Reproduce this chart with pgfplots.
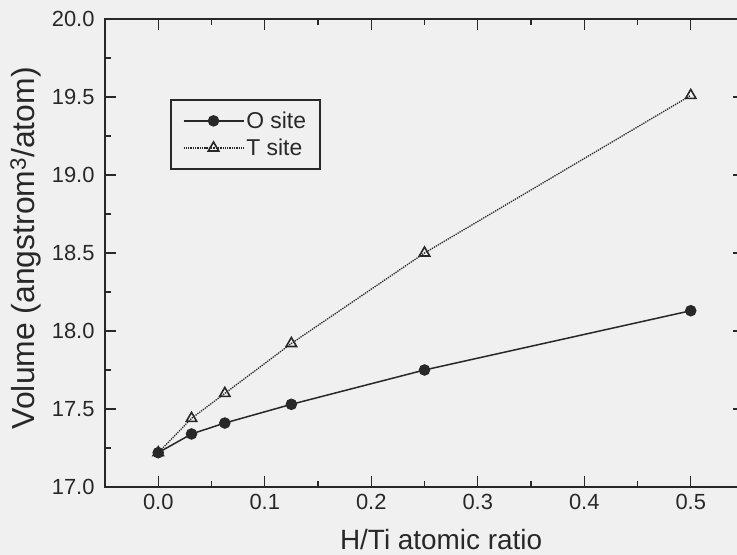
\documentclass[border=0pt]{standalone}
\usepackage{pgfplots}
\pgfplotsset{compat=1.18}
\usepackage{fontspec}
\setmainfont{Liberation Sans}
\definecolor{bg}{RGB}{240,240,240}
\definecolor{ink}{RGB}{40,40,40}
\begin{document}
\begin{tikzpicture}
\fill[bg] (-105bp,-68bp) rectangle (632bp,487bp);
\begin{axis}[
  name=ax, at={(0,0)}, anchor=south west,
  scale only axis, width=639bp, height=468bp,
  xmin=-0.05, xmax=0.55, ymin=17, ymax=20,
  xtick={0,0.1,0.2,0.3,0.4,0.5},
  ytick={17,17.5,18,18.5,19,19.5,20},
  minor x tick num=1, minor y tick num=1,
  tick align=inside, major tick length=11bp, minor tick length=6bp,
  every tick/.style={ink, line width=1.3bp},
  axis line style={ink, line width=2bp},
  /pgf/number format/assume math mode=true,
  /pgf/number format/.cd, fixed, fixed zerofill, precision=1, /pgfplots/.cd,
  ticklabel style={font=\fontsize{22}{26}\selectfont, text=ink},
  xticklabel style={yshift=-4bp},
  yticklabel style={xshift=-7bp},
  xlabel={H/Ti atomic ratio},
  ylabel={Volume (angstrom\textsuperscript{3}/atom)},
  xlabel style={font=\fontsize{28}{32}\selectfont, text=ink, at={(axis description cs:0.526,-0.113)}, anchor=center},
  ylabel style={font=\fontsize{32}{36}\selectfont, text=ink, at={(axis description cs:-0.124,0.51)}, anchor=center},
  legend style={at={(axis description cs:0.1017,0.829)}, anchor=north west,
    draw=ink, line width=1.6bp, fill=bg, font=\fontsize{23}{26}\selectfont, text=ink,
    inner xsep=12bp, inner ysep=10bp, row sep=5bp},
  legend cell align=left,
  legend image code/.code={\draw[mark repeat=2, mark phase=2, #1] plot coordinates {(0bp,0bp) (30bp,0bp) (60bp,0bp)};},
]
\addplot[ink, line width=1.5bp, mark=*, mark size=5bp, mark options={fill=ink, solid}]
  coordinates {(0,17.22) (0.03125,17.34) (0.0625,17.41) (0.125,17.53) (0.25,17.75) (0.5,18.13)};
\addlegendentry{O site}
\addplot[ink, line width=1.3bp, densely dotted, mark=triangle, mark size=6bp, mark options={solid, line width=1.6bp, fill=none}]
  coordinates {(0,17.22) (0.03125,17.44) (0.0625,17.60) (0.125,17.92) (0.25,18.50) (0.5,19.51)};
\addlegendentry{T site}
\end{axis}
\pgfresetboundingbox
\path (-105bp,-68bp) rectangle (632bp,487bp);
\end{tikzpicture}
\end{document}
